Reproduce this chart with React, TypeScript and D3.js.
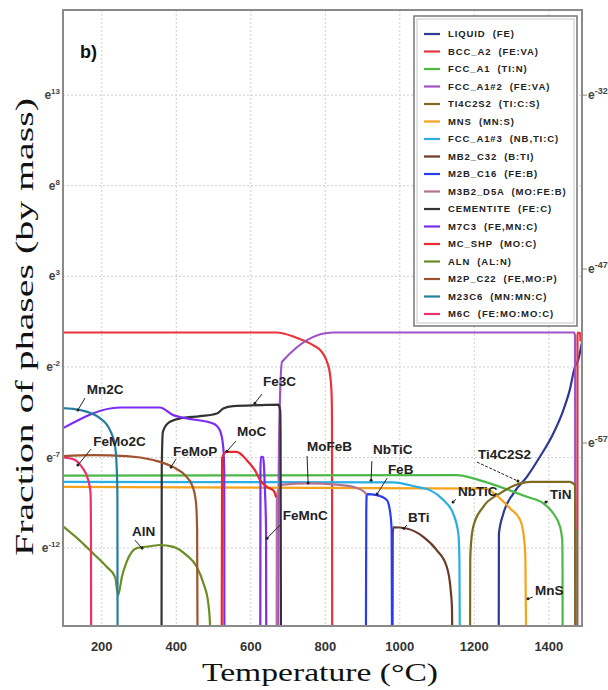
import React from "react";
import * as d3 from "d3";

const W = 608;
const H = 690;

// Axis ticks
const xTicks = [200, 400, 600, 800, 1000, 1200, 1400];
const yTickExps = [13, 8, 3, -2, -7, -12];
const rightTickExps = ["-32", "-47", "-57"];

// Legend
const phaseNames = [
  "LIQUID  (FE)",
  "BCC_A2  (FE:VA)",
  "FCC_A1  (TI:N)",
  "FCC_A1#2  (FE:VA)",
  "TI4C2S2  (TI:C:S)",
  "MNS  (MN:S)",
  "FCC_A1#3  (NB,TI:C)",
  "MB2_C32  (B:TI)",
  "M2B_C16  (FE:B)",
  "M3B2_D5A  (MO:FE:B)",
  "CEMENTITE  (FE:C)",
  "M7C3  (FE,MN:C)",
  "MC_SHP  (MO:C)",
  "ALN  (AL:N)",
  "M2P_C22  (FE,MO:P)",
  "M23C6  (MN:MN:C)",
  "M6C  (FE:MO:MO:C)",
];
const phaseColors = [
  "#2c3a92", "#e8333a", "#4cb848", "#a052c8", "#7d6b1e", "#f7a21b",
  "#2aaee4", "#6b3a2a", "#2a3cf0", "#b5728f", "#333333", "#7b2cf5",
  "#e8282e", "#6b8e23", "#a0522d", "#237f9f", "#f0306a",
];

// Series: [temperature °C, ln(fraction)] ; -17 = below axis
const liquid = [[[1265.5, -17], [1266, -11.2], [1278, -10.09], [1305, -8.98], [1341, -8.07], [1376, -6.96], [1412, -5.67], [1439, -4.38], [1456, -3.28], [1470, -1.99], [1479, -1.62], [1488, -0.7]]];
const bccA2 = [
  [[96, -0.1], [670, -0.1], [719, -0.36], [767, -0.8], [791, -1.18], [805, -1.74], [813, -2.45], [817, -3.56], [818, -5.0], [818.5, -17]],
  [[1476.5, -17], [1477, -0.3], [1478, -0.1], [1484, -0.15], [1485, -0.6]],
];
const fccA1 = [
  [[96, -8.0], [1153, -7.97], [1197, -8.15], [1242, -8.43], [1269, -8.62], [1341, -9.17], [1385, -9.53], [1412, -10.09], [1430, -10.82], [1436, -11.56], [1436.7, -13], [1437, -17]],
  [[1472.8, -11.0], [1473, -17]],
];
const fccA1_2 = [[[673, -17], [675, -8], [678, -4], [684, -1.72], [821, -0.1], [1468, -0.1], [1470.5, -0.3], [1471, -17]]];
const ti4c2s2 = [[[1188.5, -17], [1189, -12.8], [1190, -12.1], [1197, -10.82], [1224, -9.72], [1269, -8.98], [1323, -8.43], [1350, -8.34], [1456, -8.34], [1470, -8.52], [1470.7, -10], [1471, -17]]];
const mns = [[[96, -8.62], [1230, -8.72], [1260, -9.1], [1296, -9.81], [1323, -10.45], [1333, -11.38], [1337, -12.5], [1339, -17]]];
const fccA1_3 = [[[96, -8.35], [983, -8.37], [1045, -8.62], [1081, -8.8], [1117, -9.35], [1143, -10.09], [1157, -11.19], [1160, -12.7], [1161, -17]]];
const mb2c32 = [[[980.5, -17], [981, -11.2], [983, -10.85], [1018, -10.92], [1063, -11.38], [1099, -12.11], [1126, -13.03], [1136, -14.2], [1140, -15.3], [1141, -17]]];
const m2bc16 = [[[909, -17], [910, -10], [911, -9.1], [912, -9.02], [938, -9.08], [965, -9.35], [974, -10.01], [978, -11.0], [979, -17]]];
const m3b2 = [[[669.5, -17], [670, -9.5], [672, -8.9], [686, -8.5], [754, -8.43], [830, -8.5], [880, -8.65], [905, -8.9], [911, -9.05]]];
const cementite = [[[360.5, -17], [361, -7.7], [364, -5.6], [378, -5.1], [410, -4.85], [464, -4.72], [509, -4.57], [526, -4.3], [553, -4.16], [625, -4.11], [674, -4.08], [679, -4.4], [680, -6], [681, -17]]];
const m7c3 = [
  [[96, -5.38], [249, -4.24], [356, -4.24], [392, -4.66], [428, -4.84], [499, -5.12], [517, -5.49], [526, -6.41], [528.7, -7.7], [529.2, -17]],
  [[625.5, -17], [626, -7.7], [627, -6.96], [633, -6.98], [636, -7.7], [638, -8.8], [641, -11], [641.5, -17]],
];
const mcShp = [[[522, -17], [523, -7.03], [535, -6.69], [562, -6.69], [589, -7.14], [611, -7.7], [625, -8.25], [643, -8.62], [662, -8.85], [668, -9.2]]];
const aln = [[[96, -10.8], [142, -11.6], [177, -12.3], [213, -13.03], [236, -13.6], [244, -14.6], [254, -13.6], [267, -12.75], [294, -12.0], [330, -11.9], [356, -11.83], [392, -11.93], [428, -12.4], [455, -13.03], [473, -13.95], [486, -15.05], [490.5, -16.2], [491, -17]]];
const m2pc22 = [[[96, -6.92], [177, -6.87], [267, -6.92], [338, -7.14], [392, -7.53], [423, -7.97], [444, -8.61], [453, -9.5], [456, -11], [457, -17]]];
const m23c6 = [[[96, -4.27], [142, -4.38], [195, -4.83], [222, -5.49], [236, -6.41], [240, -7.5], [242, -9], [242.5, -17]]];
const m6c = [[[96, -7.0], [124, -7.1], [146, -7.51], [164, -8.25], [170, -9.0], [171, -11], [171.5, -17]]];

const seriesData = [liquid, bccA2, fccA1, fccA1_2, ti4c2s2, mns, fccA1_3, mb2c32, m2bc16, m3b2, cementite, m7c3, mcShp, aln, m2pc22, m23c6, m6c];

// Annotations: text, text anchor [T, ln], leader from [T, ln] to [T, ln]
const annotations = [
  { text: "Mn2C", at: [160, -3.5], from: [155, -3.72], to: [136, -4.38] },
  { text: "FeMo2C", at: [177, -6.37], from: [171, -6.54], to: [136, -7.42] },
  { text: "FeMoP", at: [391, -6.92], from: [399, -7.09], to: [386, -7.53] },
  { text: "MoC", at: [563, -5.82], from: [560, -6.1], to: [536, -6.65] },
  { text: "Fe3C", at: [633, -3.06], from: [630, -3.5], to: [611, -4.0] },
  { text: "MoFeB", at: [751, -6.65], from: [751, -6.92], to: [754, -8.41] },
  { text: "NbTiC", at: [928, -6.81], from: [925, -7.2], to: [923, -8.25] },
  { text: "FeB", at: [968, -7.92], from: [966, -8.14], to: [939, -9.02] },
  { text: "FeMnC", at: [686, -10.45], from: [681, -10.68], to: [644, -11.45] },
  { text: "BTi", at: [1022, -10.57], from: [1019, -10.73], to: [1011, -10.9] },
  { text: "NbTiC", at: [1156, -9.13], from: [1151, -9.3], to: [1143, -9.46] },
  { text: "Ti4C2S2", at: [1210, -7.09], from: [1207, -7.25], to: [1317, -8.3] },
  { text: "TiN", at: [1403, -9.3], from: [1398, -9.41], to: [1392, -9.46] },
  { text: "MnS", at: [1363, -14.59], from: [1357, -14.7], to: [1344, -14.8] },
  { text: "AlN", at: [281, -11.34], from: [289, -11.56], to: [308, -12.0] },
];

const left = 63, right = 582, top = 10, bottom = 626;

export default function App() {
  const x = d3.scaleLinear().domain([96, 1489]).range([left, right]);
  const y = d3.scaleLinear().domain([-16.3, 17.7]).range([bottom, top]);
  const yRight = d3.scalePoint<string>().domain(rightTickExps).range([y(13), y(-6.2)]);
  const line = d3
    .line<number[]>()
    .x((d) => x(d[0]))
    .y((d) => y(d[1]))
    .curve(d3.curveMonotoneX);

  const legendX = 414, legendY = 16, legendW = 163, legendH = 310;
  const rowY = (i: number) => 34 + i * 17.5;

  return (
    <svg width={W} height={H} viewBox={`0 0 ${W} ${H}`} style={{ display: "block", position: "absolute", left: 0, top: 0, background: "#fff" }}>
      <defs>
        <clipPath id="plotclip">
          <rect x={left} y={top} width={right - left} height={bottom - top} />
        </clipPath>
      </defs>
      <rect x={0} y={0} width={W} height={H} fill="#fff" />
      {/* grid */}
      {xTicks.map((t) => (
        <line key={"gx" + t} x1={x(t)} x2={x(t)} y1={top} y2={bottom} stroke="#cfcfcf" strokeWidth={1} strokeDasharray="2,2" />
      ))}
      {yTickExps.map((t) => (
        <line key={"gy" + t} x1={left} x2={right} y1={y(t)} y2={y(t)} stroke="#cfcfcf" strokeWidth={1} strokeDasharray="2,2" />
      ))}
      {/* series */}
      <g clipPath="url(#plotclip)">
        {seriesData.map((segs, i) =>
          segs.map((seg, j) => (
            <path key={`s${i}-${j}`} d={line(seg as number[][]) || ""} fill="none" stroke={phaseColors[i]} strokeWidth={2.2} strokeLinejoin="round" />
          ))
        )}
      </g>
      {/* annotations */}
      {annotations.map((a, i) => (
        <g key={"a" + i}>
          <line x1={x(a.from[0])} y1={y(a.from[1])} x2={x(a.to[0])} y2={y(a.to[1])} stroke="#222" strokeWidth={1} strokeDasharray={a.text === "Ti4C2S2" ? "3,1.5" : undefined} />
          <circle cx={x(a.to[0])} cy={y(a.to[1])} r={1.5} fill="#222" />
          <text x={x(a.at[0])} y={y(a.at[1])} fontFamily="'Liberation Sans', Arial, sans-serif" fontWeight="bold" fontSize={13.5} fill="#222">
            {a.text}
          </text>
        </g>
      ))}
      {/* frame */}
      <rect x={left} y={top} width={right - left} height={bottom - top} fill="none" stroke="#8a8a8a" strokeWidth={2} />
      {/* legend */}
      <rect x={legendX} y={legendY} width={legendW} height={legendH} fill="#fff" stroke="#777" strokeWidth={1.5} />
      <rect x={legendX + 3} y={legendY + 3} width={legendW - 6} height={legendH - 6} fill="none" stroke="#c8c8c8" strokeWidth={1} />
      {phaseNames.map((n, i) => (
        <g key={"l" + i}>
          <line x1={424} x2={440} y1={rowY(i)} y2={rowY(i)} stroke={phaseColors[i]} strokeWidth={2.2} />
          <text x={448} y={rowY(i) + 3.4} fontFamily="'Liberation Sans', Arial, sans-serif" fontWeight="bold" fontSize={9.5} letterSpacing={0.9} fill="#222" style={{ whiteSpace: "pre" }}>
            {n}
          </text>
        </g>
      ))}
      {/* b) */}
      <text x={80} y={58} fontFamily="'Liberation Sans', Arial, sans-serif" fontWeight="bold" fontSize={18} fill="#111">b)</text>
      {/* left axis labels */}
      {yTickExps.map((t) => (
        <text key={"yl" + t} x={60} y={y(t) + 4} textAnchor="end" fontFamily="'Liberation Sans', Arial, sans-serif" fontWeight="bold" fontSize={12} fill="#444">
          <tspan>e</tspan>
          <tspan dy={-5} fontSize={8}>{t}</tspan>
        </text>
      ))}
      {/* right axis labels */}
      {rightTickExps.map((t) => (
        <g key={"yr" + t}>
          <line x1={right} x2={right + 5} y1={yRight(t)} y2={yRight(t)} stroke="#888" strokeWidth={1} />
          <text x={right + 6} y={(yRight(t) as number) + 4} fontFamily="'Liberation Sans', Arial, sans-serif" fontWeight="bold" fontSize={12} fill="#444">
            <tspan>e</tspan>
            <tspan dy={-5} fontSize={9}>{t}</tspan>
          </text>
        </g>
      ))}
      {/* bottom axis labels */}
      {xTicks.map((t) => (
        <text key={"xl" + t} x={x(t)} y={651} textAnchor="middle" fontFamily="'Liberation Sans', Arial, sans-serif" fontWeight="bold" fontSize={13} fill="#333">
          {t}
        </text>
      ))}
      {/* axis titles */}
      <text x={320} y={681} textAnchor="middle" fontFamily="'Liberation Serif', 'DejaVu Serif', serif" fontSize={26} fill="#111" textLength={236} lengthAdjust="spacingAndGlyphs">
        Temperature (°C)
      </text>
      <text transform="translate(33,327) rotate(-90)" textAnchor="middle" fontFamily="'Liberation Serif', 'DejaVu Serif', serif" fontSize={26} fill="#111" textLength={458} lengthAdjust="spacingAndGlyphs">
        Fraction of phases (by mass)
      </text>
    </svg>
  );
}
